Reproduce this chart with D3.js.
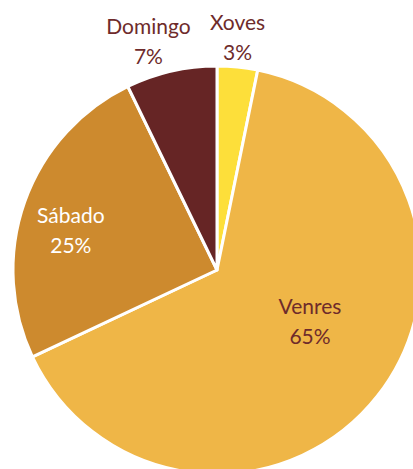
<!DOCTYPE html>
<html>
<head>
<meta charset="utf-8">
<script src="https://cdn.jsdelivr.net/npm/d3@7"></script>
<style>
  html, body { margin: 0; padding: 0; background: #fff; overflow: hidden; }
  svg { display: block; }
</style>
</head>
<body>
<div id="chart"></div>
<script>
(function () {
  const categories = ["Xoves", "Venres", "Sábado", "Domingo"];
  const values = [3.2, 64.8, 24.8, 7.2];
  const percentLabels = ["3%", "65%", "25%", "7%"];

  const colors = ["#fddf3a", "#efb647", "#cd8a2e", "#662525"];
  const labelColors = ["#6e2b2b", "#6e2b2b", "#ffffff", "#6e2b2b"];
  // label radius (fraction of pie radius) and small nudges
  const labelRadius = [1.15, 0.58, 0.76, 1.15];
  const labelNudge = [[-3, 0], [0, -22], [0, 12], [-16, 0]];

  const width = 413;
  const height = 469;
  const cx = 217, cy = 270, r = 204;

  const svg = d3.select("#chart").append("svg")
    .attr("width", width)
    .attr("height", height);

  const g = svg.append("g").attr("transform", `translate(${cx},${cy})`);

  const data = categories.map((c, i) => ({ name: c, value: values[i], label: percentLabels[i], i }));

  const pie = d3.pie().sort(null).value(d => d.value);
  const arcs = pie(data);

  const arc = d3.arc().innerRadius(0).outerRadius(r);

  g.selectAll("path.slice")
    .data(arcs)
    .join("path")
    .attr("class", "slice")
    .attr("d", arc)
    .attr("fill", d => colors[d.data.i])
    .attr("stroke", "#fff")
    .attr("stroke-width", 3)
    .attr("stroke-linejoin", "round");

  const labels = g.selectAll("text.lbl")
    .data(arcs)
    .join("text")
    .attr("class", "lbl")
    .attr("text-anchor", "middle")
    .style("font-family", "Lato, 'Open Sans', sans-serif")
    .style("font-size", "21px")
    .attr("fill", d => labelColors[d.data.i])
    .attr("transform", d => {
      const lr = r * labelRadius[d.data.i];
      const [x, y] = d3.arc().innerRadius(lr).outerRadius(lr).centroid(d);
      const [dx, dy] = labelNudge[d.data.i];
      return `translate(${x + dx},${y + dy})`;
    });

  labels.append("tspan").attr("x", 0).attr("y", -7).text(d => d.data.name);
  labels.append("tspan").attr("x", 0).attr("y", 23).text(d => d.data.label);
})();
</script>
</body>
</html>
